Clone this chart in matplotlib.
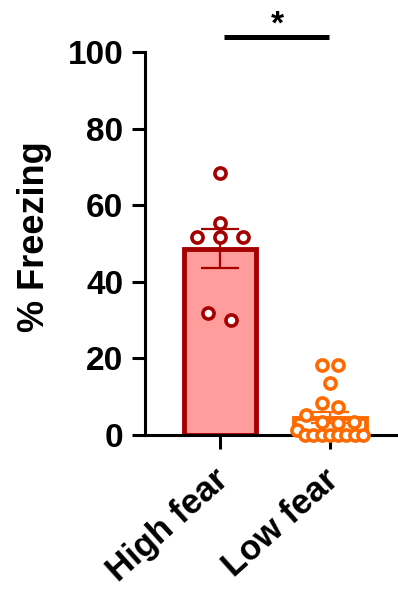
import numpy as np
import matplotlib
matplotlib.use("Agg")
import matplotlib.pyplot as plt
from matplotlib.transforms import ScaledTranslation

plt.rcParams['font.family'] = ['Liberation Sans', 'DejaVu Sans']
plt.rcParams['font.weight'] = 'bold'

categories = ["High fear", "Low fear"]
high_fear = [68.4, 55.3, 51.7, 51.7, 51.7, 31.8, 30.0]
low_fear = [18.3, 18.3, 13.6, 8.4, 7.2, 5.2, 3.4, 3.1, 3.4, 1.3,
            0, 0, 0, 0, 0, 0, 0, 0]
yticks = [0, 20, 40, 60, 80, 100]
sig_label = "*"

face_colors = ["#FF9C9C", "#FFFFFF"]
edge_colors = ["#A50000", "#FF6A00"]
spread_px = [23, 16]     # point spacing within a row
max_width_px = [70, 66]  # max width of a row

W, H = 398, 597
fig = plt.figure(figsize=(W / 100, H / 100), dpi=100)
ax_left, ax_right, ax_bot, ax_top = 145, 398, 435, 52
ax = fig.add_axes([ax_left / W, 1 - ax_bot / H, (ax_right - ax_left) / W, (ax_bot - ax_top) / H])
xlim = (-0.68, 1.62)
ylim = (0, 100)
ax.set_xlim(*xlim)
ax.set_ylim(*ylim)

px_per_x = (ax_right - ax_left) / (xlim[1] - xlim[0])
px_per_y = (ax_bot - ax_top) / (ylim[1] - ylim[0])


def row_scatter(values, sp, maxw, thresh_px=10.5):
    """GraphPad-like: group close values into rows, spread each row symmetrically."""
    vals = np.asarray(values, dtype=float)
    order = sorted(range(len(vals)), key=lambda k: -vals[k])
    offs = np.zeros(len(vals))
    bins, cur = [], [order[0]]
    for k in order[1:]:
        if (vals[cur[0]] - vals[k]) * px_per_y <= thresh_px:
            cur.append(k)
        else:
            bins.append(cur)
            cur = [k]
    bins.append(cur)
    for b in bins:
        n = len(b)
        if n == 1:
            continue
        step = min(sp, maxw / (n - 1))
        b_sorted = sorted(b)
        for j, k in enumerate(b_sorted):
            offs[k] = (j - (n - 1) / 2) * step / px_per_x
    return offs


groups = [np.array(high_fear), np.array(low_fear)]
for i, vals in enumerate(groups):
    mean = vals.mean()
    sem = vals.std(ddof=1) / np.sqrt(len(vals))
    ax.bar(i, mean, width=0.65, color=face_colors[i], edgecolor=edge_colors[i],
           linewidth=3.5, zorder=2)
    ax.errorbar(i, mean, yerr=sem, color=edge_colors[i], capsize=14, elinewidth=1.6,
                capthick=1.6, zorder=3)
    offs = row_scatter(vals, spread_px[i], max_width_px[i])
    ax.plot(i + offs, vals, 'o', ms=8, mfc='white', mec=edge_colors[i], mew=2.6,
            zorder=4, clip_on=False, linestyle='none')

for s in ['top', 'right']:
    ax.spines[s].set_visible(False)
for s in ['left', 'bottom']:
    ax.spines[s].set_linewidth(2.2)

ax.set_yticks(yticks)
ax.set_yticklabels([str(t) for t in yticks], fontsize=24, fontweight='bold')
ax.tick_params(axis='y', length=9.5, width=2.2, pad=6)
ax.tick_params(axis='x', length=10, width=2.2, pad=6)
ax.set_xticks([0, 1])
ax.set_xticklabels(categories, fontsize=25, fontweight='bold', rotation=42,
                   ha='right', va='top', rotation_mode='anchor')
shift = ScaledTranslation(-7 / 100, -6 / 100, fig.dpi_scale_trans)
for lab in ax.get_xticklabels():
    lab.set_transform(lab.get_transform() + shift)
ax.set_ylabel("% Freezing", fontsize=26, fontweight='bold')
ax.yaxis.set_label_coords((52 - ax_left) / (ax_right - ax_left), (ax_bot - 237) / (ax_bot - ax_top))

# significance bar
ax.plot([0.04, 0.99], [104, 104], color='black', lw=3.6, clip_on=False,
        solid_capstyle='butt')
ax.text(0.52, 103.0, sig_label, ha='center', va='bottom', fontsize=24,
        fontweight='bold', clip_on=False)

fig.savefig("out.png", dpi=100)
